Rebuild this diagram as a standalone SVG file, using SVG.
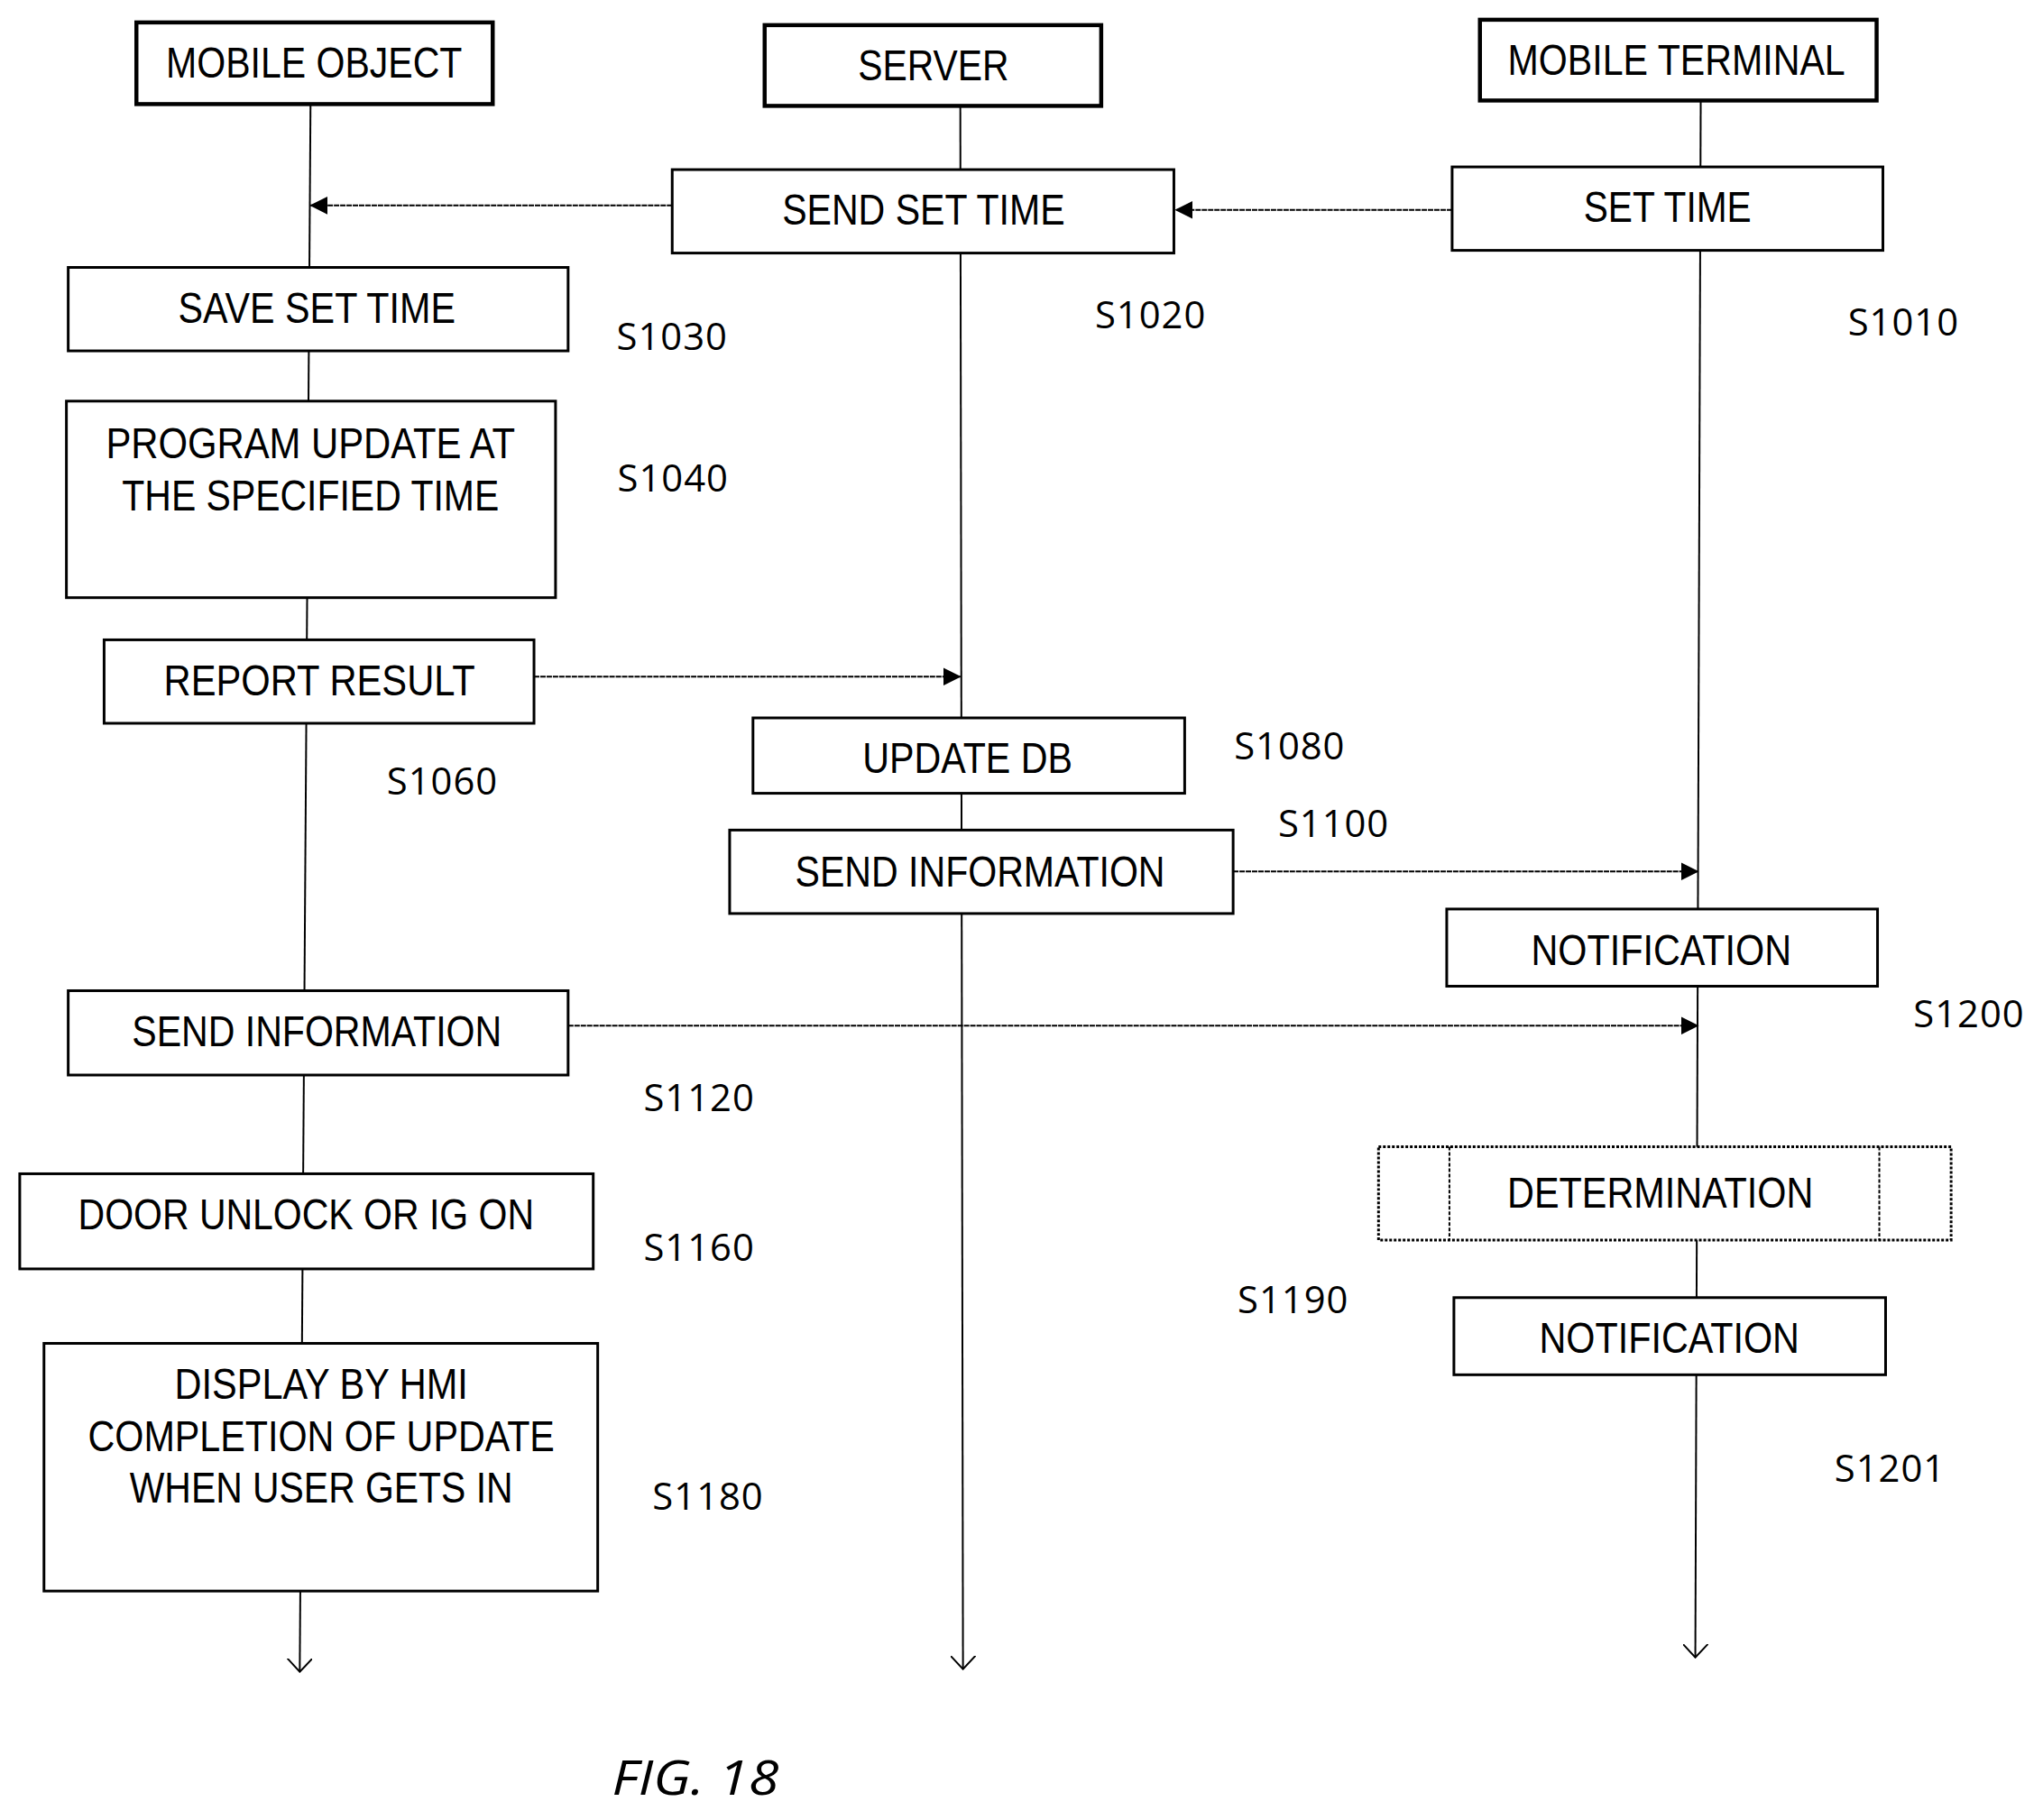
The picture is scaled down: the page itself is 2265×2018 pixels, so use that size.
<svg xmlns="http://www.w3.org/2000/svg" width="2265" height="2018" viewBox="0 0 2265 2018">
<defs>
<style>
.b{fill:#fff;stroke:#000;stroke-width:3}
.h{fill:#fff;stroke:#000;stroke-width:4.5}
.t{font-family:"Liberation Sans Narrow","Liberation Sans",sans-serif;font-size:48px;text-anchor:middle;dominant-baseline:central}
.s{font-family:"Open Sans","Liberation Sans",sans-serif;font-size:42px}
.l{stroke:#000;stroke-width:2;fill:none}
.a{stroke:#000;stroke-width:2;fill:none;stroke-dasharray:6 1}
</style>
<marker id="f" markerWidth="20" markerHeight="20" refX="19" refY="10" orient="auto" markerUnits="userSpaceOnUse" viewBox="0 0 20 20"><path d="M0,0 L20,10 L0,20z" fill="#000"/></marker>
<marker id="o" markerWidth="16" markerHeight="28" refX="15" refY="14" orient="auto" markerUnits="userSpaceOnUse" viewBox="0 0 16 28"><path d="M0,0 L15,14 L0,28" fill="none" stroke="#000" stroke-width="2"/></marker>
</defs>
<rect width="2265" height="2018" fill="#fff"/>
<g transform="scale(0.995)">
<g id="connectors">
<path class="l" d="M346,116 L334,1863" marker-end="url(#o)"/>
<path class="l" d="M1070,118 L1073,1860" marker-end="url(#o)"/>
<path class="l" d="M1895,112 L1889,1847" marker-end="url(#o)"/>
<path class="a" d="M749,229 L346,229" marker-end="url(#f)"/>
<path class="a" d="M1618,234 L1310,234" marker-end="url(#f)"/>
<path class="a" d="M595,754 L1070,754" marker-end="url(#f)"/>
<path class="a" d="M1374,971 L1892,971" marker-end="url(#f)"/>
<path class="a" d="M633,1143 L1892,1143" marker-end="url(#f)"/>
</g>
<g id="mobile_object"><rect class="h" x="152" y="25" width="397" height="91"/><text class="t" x="350" y="70" textLength="330" lengthAdjust="spacingAndGlyphs">MOBILE OBJECT</text></g>
<g id="server"><rect class="h" x="852" y="28" width="375" height="90"/><text class="t" x="1040" y="73" textLength="168" lengthAdjust="spacingAndGlyphs">SERVER</text></g>
<g id="mobile_terminal"><rect class="h" x="1649" y="22" width="442" height="90"/><text class="t" x="1868" y="67" textLength="376" lengthAdjust="spacingAndGlyphs">MOBILE TERMINAL</text></g>
<g id="send_set_time"><rect class="b" x="749" y="189" width="559" height="93"/><text class="t" x="1029" y="234" textLength="315" lengthAdjust="spacingAndGlyphs">SEND SET TIME</text></g>
<g id="set_time"><rect class="b" x="1618" y="186" width="480" height="93"/><text class="t" x="1858" y="231" textLength="187" lengthAdjust="spacingAndGlyphs">SET TIME</text></g>
<g id="save_set_time"><rect class="b" x="76" y="298" width="557" height="93"/><text class="t" x="353" y="343" textLength="309" lengthAdjust="spacingAndGlyphs">SAVE SET TIME</text></g>
<g id="program_update"><rect class="b" x="74" y="447" width="545" height="219"/><text class="t" x="346" y="494" textLength="456" lengthAdjust="spacingAndGlyphs">PROGRAM UPDATE AT</text><text class="t" x="346" y="552" textLength="420" lengthAdjust="spacingAndGlyphs">THE SPECIFIED TIME</text></g>
<g id="report_result"><rect class="b" x="116" y="713" width="479" height="93"/><text class="t" x="356" y="758" textLength="347" lengthAdjust="spacingAndGlyphs">REPORT RESULT</text></g>
<g id="update_db"><rect class="b" x="839" y="800" width="481" height="84"/><text class="t" x="1078" y="845" textLength="234" lengthAdjust="spacingAndGlyphs">UPDATE DB</text></g>
<g id="send_info_server"><rect class="b" x="813" y="925" width="561" height="93"/><text class="t" x="1092" y="971" textLength="412" lengthAdjust="spacingAndGlyphs">SEND INFORMATION</text></g>
<g id="notification1"><rect class="b" x="1612" y="1013" width="480" height="86"/><text class="t" x="1851" y="1059" textLength="290" lengthAdjust="spacingAndGlyphs">NOTIFICATION</text></g>
<g id="send_info_mobile"><rect class="b" x="76" y="1104" width="557" height="94"/><text class="t" x="353" y="1149" textLength="412" lengthAdjust="spacingAndGlyphs">SEND INFORMATION</text></g>
<g id="door_unlock"><rect class="b" x="22" y="1308" width="639" height="106"/><text class="t" x="341" y="1353" textLength="508" lengthAdjust="spacingAndGlyphs">DOOR UNLOCK OR IG ON</text></g>
<g id="display_hmi"><rect class="b" x="49" y="1497" width="617" height="276"/><text class="t" x="358" y="1542" textLength="327" lengthAdjust="spacingAndGlyphs">DISPLAY BY HMI</text><text class="t" x="358" y="1600" textLength="520" lengthAdjust="spacingAndGlyphs">COMPLETION OF UPDATE</text><text class="t" x="358" y="1658" textLength="427" lengthAdjust="spacingAndGlyphs">WHEN USER GETS IN</text></g>
<g id="determination"><rect x="1536" y="1278" width="638" height="104" fill="#fff" stroke="#000" stroke-width="3" stroke-dasharray="3 2"/><path d="M1615,1278 V1382 M2094,1278 V1382" stroke="#000" stroke-width="2" stroke-dasharray="4 2"/><text class="t" x="1850" y="1329" textLength="341" lengthAdjust="spacingAndGlyphs">DETERMINATION</text></g>
<g id="notification2"><rect class="b" x="1620" y="1446" width="481" height="86"/><text class="t" x="1860" y="1491" textLength="290" lengthAdjust="spacingAndGlyphs">NOTIFICATION</text></g>
<g id="labels" class="s">
<text x="687" y="390" textLength="123">S1030</text>
<text x="1220" y="366" textLength="123">S1020</text>
<text x="2059" y="374" textLength="123">S1010</text>
<text x="688" y="548" textLength="123">S1040</text>
<text x="431" y="885" textLength="123">S1060</text>
<text x="1375" y="846" textLength="123">S1080</text>
<text x="1424" y="933" textLength="123">S1100</text>
<text x="2132" y="1145" textLength="123">S1200</text>
<text x="717" y="1238" textLength="123">S1120</text>
<text x="717" y="1405" textLength="123">S1160</text>
<text x="1379" y="1463" textLength="123">S1190</text>
<text x="727" y="1682" textLength="123">S1180</text>
<text x="2044" y="1651" textLength="123">S1201</text>
</g>
<text x="682" y="2000" font-family="Open Sans, Liberation Sans, sans-serif" font-style="italic" font-size="54" textLength="186" lengthAdjust="spacingAndGlyphs">FIG. 18</text>
</g>
</svg>
